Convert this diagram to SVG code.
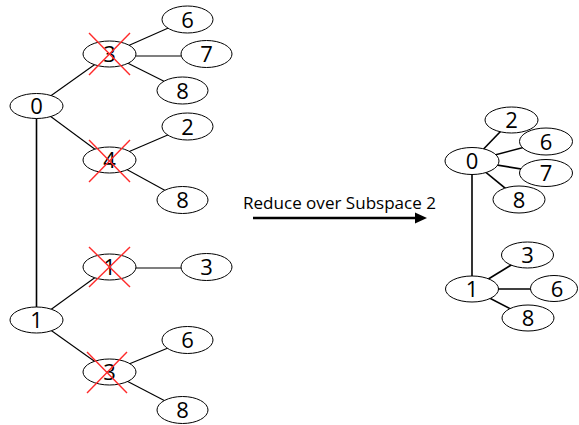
<svg xmlns="http://www.w3.org/2000/svg" width="579" height="425" viewBox="0 0 579 425">
  <style>
    .edge { stroke: #000; stroke-width: 1.1; fill: none; }
    .edge.thick { stroke-width: 1.6; }
    .node ellipse { fill: #fff; stroke: #000; stroke-width: 1; }
    .node text { font-family: "Open Sans", "Noto Sans", sans-serif; font-size: 22px; text-anchor: middle; fill: #000; }
    .cross line { stroke: #ff2a2a; stroke-width: 1.4; }
    .label { font-family: "Open Sans", "Noto Sans", sans-serif; font-size: 15.5px; fill: #000; }
  </style>
  <rect width="579" height="425" fill="#fff"/>

  <!-- connectors -->
  <g id="connectors">
    <!-- left tree -->
    <line class="edge thick" x1="36.5" y1="106" x2="36.5" y2="320"/>
    <line class="edge" x1="36.5" y1="106" x2="109.5" y2="54"/>
    <line class="edge" x1="36.5" y1="106" x2="109.5" y2="160"/>
    <line class="edge" x1="109.5" y1="54" x2="187.5" y2="19.5"/>
    <line class="edge" x1="109.5" y1="56" x2="206.5" y2="56"/>
    <line class="edge" x1="109.5" y1="54" x2="182.5" y2="90.5"/>
    <line class="edge" x1="109.5" y1="160" x2="187.5" y2="126.5"/>
    <line class="edge" x1="109.5" y1="160" x2="182.5" y2="200"/>
    <line class="edge" x1="36.5" y1="320" x2="109.5" y2="267"/>
    <line class="edge" x1="36.5" y1="320" x2="109.5" y2="372"/>
    <line class="edge" x1="109.5" y1="268" x2="206.5" y2="268"/>
    <line class="edge" x1="109.5" y1="372" x2="187.5" y2="340"/>
    <line class="edge" x1="109.5" y1="372" x2="182.5" y2="410"/>
    <!-- right tree -->
    <line class="edge thick" x1="472" y1="161" x2="472" y2="289"/>
    <line class="edge thick" x1="472" y1="161" x2="511.5" y2="120"/>
    <line class="edge thick" x1="472" y1="161" x2="546" y2="141.5"/>
    <line class="edge thick" x1="472" y1="161" x2="546" y2="173"/>
    <line class="edge thick" x1="472" y1="161" x2="519" y2="199.5"/>
    <line class="edge thick" x1="472" y1="289" x2="527.5" y2="255"/>
    <line class="edge thick" x1="472" y1="289" x2="555" y2="289"/>
    <line class="edge thick" x1="472" y1="289" x2="528" y2="318"/>
  </g>

  <!-- left tree nodes -->
  <g id="L0" class="node"><ellipse cx="36.5" cy="106" rx="26.5" ry="12.5"/><text x="36.5" y="114">0</text></g>
  <g id="L1" class="node"><ellipse cx="36.5" cy="320" rx="26.5" ry="13"/><text x="36.5" y="328">1</text></g>
  <g id="L0-3" class="node"><ellipse cx="109.5" cy="54" rx="26.5" ry="13"/><text x="109.5" y="62">3</text></g>
  <g id="L0-4" class="node"><ellipse cx="109.5" cy="160" rx="26.5" ry="13"/><text x="109.5" y="168">4</text></g>
  <g id="L1-1" class="node"><ellipse cx="109.5" cy="267" rx="26.5" ry="13"/><text x="109.5" y="275">1</text></g>
  <g id="L1-3" class="node"><ellipse cx="109.5" cy="372" rx="26.5" ry="13"/><text x="109.5" y="380">3</text></g>
  <g id="L0-3-6" class="node"><ellipse cx="187.5" cy="19.5" rx="25.5" ry="13.5"/><text x="187.5" y="27.5">6</text></g>
  <g id="L0-3-7" class="node"><ellipse cx="206.5" cy="54" rx="25.5" ry="13.5"/><text x="206.5" y="62">7</text></g>
  <g id="L0-3-8" class="node"><ellipse cx="182.5" cy="90.5" rx="25.5" ry="13.5"/><text x="182.5" y="98.5">8</text></g>
  <g id="L0-4-2" class="node"><ellipse cx="187.5" cy="126.5" rx="25.5" ry="13.5"/><text x="187.5" y="134.5">2</text></g>
  <g id="L0-4-8" class="node"><ellipse cx="182.5" cy="200" rx="25.5" ry="13.5"/><text x="182.5" y="208">8</text></g>
  <g id="L1-1-3" class="node"><ellipse cx="206.5" cy="267" rx="25.5" ry="13.5"/><text x="206.5" y="275">3</text></g>
  <g id="L1-3-6" class="node"><ellipse cx="187.5" cy="340" rx="25.5" ry="13.5"/><text x="187.5" y="348">6</text></g>
  <g id="L1-3-8" class="node"><ellipse cx="182.5" cy="410" rx="25.5" ry="13.5"/><text x="182.5" y="418">8</text></g>

  <!-- removed nodes -->
  <g id="crosses" class="cross">
    <line x1="89" y1="33" x2="130" y2="75"/><line x1="130" y1="33" x2="89" y2="75"/>
    <line x1="89" y1="140" x2="130" y2="182"/><line x1="130" y1="140" x2="89" y2="182"/>
    <line x1="89" y1="247" x2="130" y2="287"/><line x1="130" y1="247" x2="89" y2="287"/>
    <line x1="87" y1="352" x2="127" y2="393"/><line x1="127" y1="352" x2="87" y2="393"/>
  </g>

  <!-- reduction arrow -->
  <g id="reduce">
    <text class="label" x="243" y="209" textLength="193" lengthAdjust="spacingAndGlyphs">Reduce over Subspace 2</text>
    <line x1="253" y1="218" x2="418" y2="218" stroke="#000" stroke-width="2.6"/>
    <polygon points="427,218 415,212.5 415,223.5" fill="#000"/>
  </g>

  <!-- right tree nodes -->
  <g id="R0" class="node"><ellipse cx="472" cy="161" rx="27" ry="13.5"/><text x="472" y="169">0</text></g>
  <g id="R1" class="node"><ellipse cx="472" cy="289" rx="26.5" ry="13"/><text x="472" y="297">1</text></g>
  <g id="R0-2" class="node"><ellipse cx="511.5" cy="120" rx="26.5" ry="13"/><text x="511.5" y="128">2</text></g>
  <g id="R0-6" class="node"><ellipse cx="546" cy="141.5" rx="26.5" ry="13.5"/><text x="546" y="149.5">6</text></g>
  <g id="R0-7" class="node"><ellipse cx="546" cy="173" rx="26.5" ry="13.5"/><text x="546" y="181">7</text></g>
  <g id="R0-8" class="node"><ellipse cx="519" cy="199.5" rx="26" ry="13.5"/><text x="519" y="207.5">8</text></g>
  <g id="R1-3" class="node"><ellipse cx="527.5" cy="255" rx="26" ry="13"/><text x="527.5" y="263">3</text></g>
  <g id="R1-6" class="node"><ellipse cx="554" cy="288.5" rx="23.5" ry="13"/><text x="557" y="296.5">6</text></g>
  <g id="R1-8" class="node"><ellipse cx="528" cy="318" rx="26" ry="13"/><text x="528" y="326">8</text></g>
</svg>
